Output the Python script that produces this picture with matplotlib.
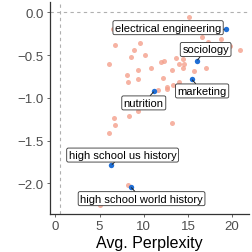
import numpy as np
import matplotlib
matplotlib.use('Agg')
import matplotlib.pyplot as plt

# background tasks (salmon points)
perp = [15.1, 6.5, 16.6, 18.7, 17.3, 9.6, 6.7, 19.8, 20.9, 8.9, 8.6, 10.1,
        13.6, 14.4, 14.6, 14.0, 14.4, 17.0, 12.0, 12.3, 15.7, 10.8, 6.1, 9.3,
        13.2, 8.1, 12.2, 9.4, 8.2, 14.0, 13.3, 12.6, 12.6, 11.6, 11.5, 10.6,
        10.0, 9.4, 8.3, 6.6, 6.7, 13.2, 6.1, 8.2, 5.0]
score = [-0.05, -0.19, -0.29, -0.31, -0.35, -0.36, -0.38, -0.40, -0.44, -0.44,
         -0.52, -0.50, -0.53, -0.55, -0.60, -0.60, -0.65, -0.65, -0.58, -0.57,
         -0.69, -0.65, -0.61, -0.68, -0.68, -0.73, -0.77, -0.78, -0.82, -0.82,
         -0.85, -0.87, -0.90, -0.91, -1.01, -1.05, -1.11, -1.16, -1.21, -1.24,
         -1.32, -1.29, -1.41, -2.02, -2.25]

# highlighted tasks
hl_names = ['electrical engineering', 'sociology', 'marketing', 'nutrition',
            'high school us history', 'high school world history']
hl_perp = [19.25, 16.0, 15.4, 11.2, 6.3, 8.5]
hl_score = [-0.20, -0.57, -0.78, -0.92, -1.79, -2.04]
lbl_x = [12.75, 17.0, 16.6, 10.0, 7.6, 9.75]
lbl_y = [-0.18, -0.435, -0.92, -1.06, -1.67, -2.18]

plt.rcParams['font.family'] = ['Liberation Sans', 'DejaVu Sans']
fig = plt.figure(figsize=(2.53, 2.53), dpi=100)
ax = fig.add_axes([0.198, 0.150, 0.786, 0.838])

ax.axhline(0, color='#b0b0b0', ls=(0, (3, 3)), lw=0.8, zorder=1)
ax.axvline(0.5, color='#b0b0b0', ls=(0, (3, 3)), lw=0.8, zorder=1)

ax.scatter(perp, score, s=13, color='#F4A08C', alpha=0.8, lw=0, zorder=2)
ax.scatter(hl_perp, hl_score, s=15, color='#1F6FD6', lw=0, zorder=3)

for name, px, py, tx, ty in zip(hl_names, hl_perp, hl_score, lbl_x, lbl_y):
    ax.annotate(name, xy=(px, py), xytext=(tx, ty), ha='center', va='center',
                fontsize=8, color='black', zorder=4,
                bbox=dict(boxstyle='round,pad=0.18,rounding_size=0.15', fc='white',
                          ec='#333333', lw=0.6),
                arrowprops=dict(arrowstyle='-', color='#222222', lw=0.7,
                                shrinkA=0, shrinkB=1))

ax.set_xlim(-0.6, 21.9)
ax.set_ylim(-2.36, 0.12)
ax.set_xticks([0, 5, 10, 15, 20])
ax.set_yticks([0.0, -0.5, -1.0, -1.5, -2.0])
ax.set_yticklabels(['0.0', '\u22120.5', '\u22121.0', '\u22121.5', '\u22122.0'])
ax.set_xlabel('Avg. Perplexity', fontsize=11.5, labelpad=2)
ax.tick_params(labelsize=9.5, colors='#4d4d4d', length=2.5, width=0.6, pad=2)
for side in ['top', 'right']:
    ax.spines[side].set_visible(False)
for side in ['left', 'bottom']:
    ax.spines[side].set_color('#333333')
    ax.spines[side].set_linewidth(0.9)

fig.savefig('out.png', dpi=100)
